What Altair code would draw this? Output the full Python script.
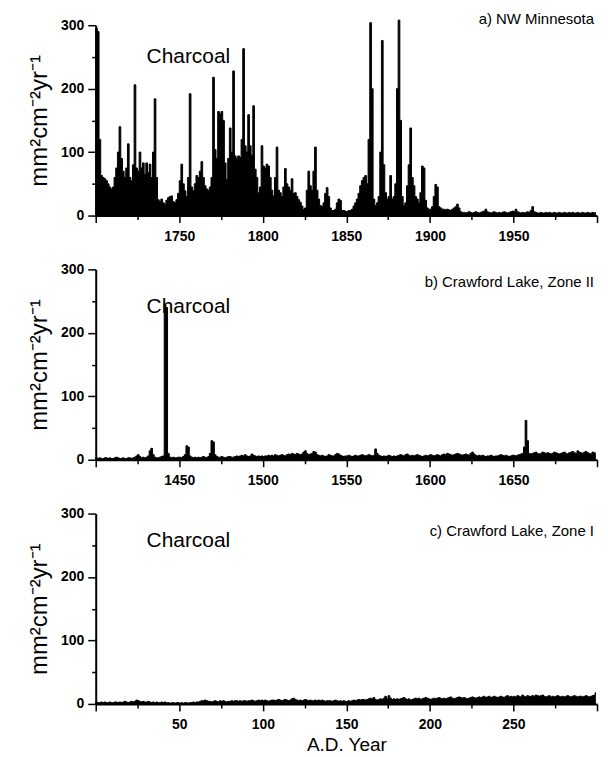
import altair as alt
import pandas as pd

# ---------------- data ----------------
years_a = list(range(1700, 2000))
charcoal_a = [
    295, 290, 120, 63, 60, 58, 55, 50, 45, 42,
    45, 60, 75, 100, 140, 90, 70, 60, 75, 113,
    60, 55, 80, 206, 75, 70, 100, 75, 83, 65,
    83, 68, 81, 60, 100, 184, 60, 25, 22, 26,
    20, 18, 24, 28, 30, 31, 22, 20, 25, 35,
    55, 81, 50, 39, 30, 60, 192, 45, 39, 50,
    63, 60, 70, 85, 60, 47, 42, 40, 45, 60,
    218, 104, 90, 164, 160, 164, 150, 83, 57, 90,
    138, 100, 228, 94, 90, 94, 92, 120, 263, 110,
    100, 159, 110, 95, 173, 73, 60, 36, 45, 110,
    78, 75, 81, 78, 60, 40, 31, 60, 108, 40,
    36, 30, 45, 74, 50, 45, 40, 58, 35, 36,
    30, 25, 21, 15, 10, 12, 40, 70, 47, 40,
    70, 108, 40, 26, 16, 14, 20, 35, 44, 30,
    12, 8, 8, 10, 20, 26, 24, 8, 8, 7,
    6, 8, 8, 10, 15, 20, 26, 35, 47, 55,
    60, 63, 50, 120, 304, 200, 26, 16, 20, 30,
    100, 276, 80, 36, 26, 30, 63, 26, 30, 50,
    200, 308, 150, 30, 16, 20, 47, 80, 138, 60,
    47, 30, 26, 20, 36, 78, 75, 24, 12, 10,
    10, 14, 30, 49, 45, 14, 12, 10, 10, 9,
    10, 9, 8, 10, 12, 14, 18, 12, 6, 5,
    5, 4, 5, 6, 5, 4, 5, 6, 5, 4,
    5, 6, 7, 10, 6, 5, 4, 5, 6, 5,
    4, 5, 4, 5, 6, 5, 4, 5, 6, 7,
    6, 10, 6, 5, 4, 5, 4, 5, 6, 5,
    8, 14, 6, 5, 4, 4, 5, 4, 4, 5,
    4, 5, 4, 4, 5, 4, 4, 5, 4, 4,
    5, 4, 4, 5, 4, 5, 4, 4, 5, 4,
    4, 5, 4, 4, 5, 4, 4, 5, 4, 5,
]

years_b = list(range(1400, 1700))
charcoal_b = [
    3, 2, 3, 2, 2, 3, 3, 2, 3, 2,
    2, 3, 4, 3, 2, 2, 3, 2, 2, 3,
    3, 2, 3, 4, 6, 8, 5, 3, 4, 3,
    4, 6, 14, 18, 8, 4, 3, 3, 4, 5,
    6, 245, 240, 10, 4, 3, 4, 3, 3, 4,
    4, 3, 5, 8, 22, 20, 6, 4, 3, 4,
    3, 4, 3, 4, 5, 4, 3, 5, 10, 30,
    28, 8, 5, 4, 4, 5, 4, 3, 4, 5,
    5, 4, 4, 5, 6, 5, 6, 7, 6, 8,
    6, 5, 6, 9, 7, 6, 5, 6, 5, 6,
    5, 6, 6, 7, 6, 7, 6, 8, 7, 6,
    7, 8, 7, 6, 8, 9, 8, 10, 9, 8,
    10, 9, 8, 9, 12, 14, 10, 8, 9, 10,
    13, 12, 8, 7, 6, 7, 6, 5, 6, 8,
    7, 6, 6, 8, 10, 9, 7, 6, 5, 6,
    6, 7, 6, 5, 6, 7, 6, 6, 7, 8,
    7, 6, 7, 8, 7, 6, 7, 17, 10, 7,
    6, 5, 6, 5, 6, 7, 6, 5, 6, 5,
    6, 7, 8, 7, 6, 8, 9, 7, 6, 7,
    6, 7, 8, 7, 6, 5, 6, 7, 6, 7,
    8, 7, 6, 7, 8, 7, 6, 8, 9, 8,
    10, 9, 8, 7, 8, 9, 10, 9, 8, 7,
    8, 9, 8, 7, 10, 12, 9, 7, 6, 7,
    6, 7, 6, 5, 6, 6, 7, 6, 5, 6,
    6, 7, 8, 7, 6, 7, 6, 5, 6, 7,
    7, 6, 7, 8, 9, 10, 20, 62, 30, 10,
    9, 10, 11, 12, 10, 9, 10, 12, 11, 10,
    11, 10, 9, 10, 12, 11, 10, 9, 10, 11,
    12, 10, 9, 11, 12, 13, 11, 10, 14, 12,
    11, 10, 12, 13, 11, 10, 9, 12, 11, 10,
]

years_c = list(range(0, 300))
charcoal_c = [
    3, 2, 2, 3, 2, 3, 2, 2, 3, 2,
    2, 3, 3, 2, 3, 2, 3, 4, 3, 2,
    3, 4, 3, 4, 6, 5, 4, 3, 4, 3,
    3, 4, 3, 2, 3, 2, 3, 2, 2, 3,
    2, 3, 2, 2, 1, 2, 2, 1, 2, 2,
    1, 2, 1, 2, 2, 1, 2, 2, 3, 2,
    3, 3, 4, 5, 5, 6, 5, 4, 4, 3,
    4, 5, 4, 3, 5, 4, 5, 4, 3, 4,
    4, 5, 4, 5, 5, 4, 5, 4, 5, 5,
    4, 5, 5, 6, 5, 4, 5, 6, 5, 6,
    5, 6, 5, 4, 5, 6, 6, 5, 6, 7,
    6, 5, 6, 7, 6, 5, 6, 8, 9, 7,
    6, 5, 6, 5, 6, 7, 6, 5, 6, 5,
    5, 6, 5, 6, 5, 6, 5, 4, 5, 5,
    5, 4, 5, 6, 5, 4, 5, 4, 5, 4,
    4, 5, 4, 5, 6, 5, 6, 7, 6, 7,
    7, 6, 7, 8, 9, 8, 10, 7, 6, 7,
    8, 7, 9, 12, 8, 13, 9, 7, 8, 7,
    8, 7, 8, 9, 10, 8, 7, 8, 6, 7,
    8, 9, 8, 9, 7, 8, 9, 10, 9, 8,
    7, 8, 9, 8, 9, 10, 9, 8, 9, 8,
    9, 10, 11, 9, 8, 9, 10, 11, 10, 9,
    10, 9, 8, 9, 10, 11, 10, 9, 10, 11,
    10, 11, 12, 10, 11, 12, 10, 11, 12, 11,
    10, 11, 12, 11, 10, 12, 13, 11, 12, 11,
    12, 11, 13, 12, 11, 14, 12, 11, 13, 12,
    12, 13, 12, 14, 13, 12, 13, 14, 12, 11,
    12, 13, 11, 12, 11, 12, 13, 12, 11, 12,
    11, 12, 13, 12, 11, 12, 13, 12, 11, 12,
    12, 11, 12, 13, 12, 11, 12, 13, 14, 18,
]

panel_titles = ["a) NW Minnesota", "b) Crawford Lake, Zone II", "c) Crawford Lake, Zone I"]
series_label = "Charcoal"
y_title = "mm²cm⁻²yr⁻¹"
x_title = "A.D. Year"
y_ticks = [0, 50, 100, 150, 200, 250, 300]

FONT = "Liberation Sans"
W, H = 503, 191


def panel(years, vals, x0, x1, title, show_xtitle, charcoal_y, title_y):
    df = pd.DataFrame({"year": years, "charcoal": vals})
    xt = list(range(x0, x1 + 1, 25))
    x_axis = alt.Axis(
        values=xt,
        format="d",
        labelExpr=f"(datum.value % 50 === 0 && datum.value > {x0} && datum.value < {x1}) ? datum.label : ''",
        tickSize={"condition": {"test": "datum.value % 50 === 0", "value": 7}, "value": 4},
        labelPadding=7,
        title=x_title if show_xtitle else None,
        titleFontSize=19,
        titleFontWeight="normal",
        titlePadding=4,
        labelFlush=False,
        labelOverlap=False,
    )
    y_axis = alt.Axis(
        values=y_ticks,
        labelExpr="datum.value % 100 === 0 ? datum.label : ''",
        tickSize={"condition": {"test": "datum.value % 100 === 0", "value": 8}, "value": 4},
        labelPadding=4,
        title=y_title,
        titleFontSize=24,
        titleFontWeight="normal",
        titlePadding=9,
        labelFlush=False,
        labelOverlap=False,
    )
    area = alt.Chart(df).mark_area(
        interpolate="step-after", color="black", stroke="black", strokeWidth=1.0
    ).encode(
        x=alt.X("year:Q", scale=alt.Scale(domain=[x0, x1], nice=False, zero=False), axis=x_axis),
        y=alt.Y("charcoal:Q", scale=alt.Scale(domain=[0, 300], nice=False), axis=y_axis),
    )
    lab = pd.DataFrame({"t": [series_label]})
    t1 = alt.Chart(lab).mark_text(
        align="left", baseline="middle", fontSize=21, font=FONT, color="black"
    ).encode(x=alt.value(51), y=alt.value(charcoal_y), text="t:N")
    tt = pd.DataFrame({"t": [title]})
    t2 = alt.Chart(tt).mark_text(
        align="right", baseline="middle", fontSize=15, font=FONT, color="black"
    ).encode(x=alt.value(500), y=alt.value(title_y), text="t:N")
    return alt.layer(area, t1, t2).properties(width=W, height=H)


pa = panel(years_a, charcoal_a, 1700, 2000, panel_titles[0], False, 32, -6)
pb = panel(years_b, charcoal_b, 1400, 1700, panel_titles[1], False, 38, 13)
pc = panel(years_c, charcoal_c, 0, 300, panel_titles[2], True, 28, 18)

chart = alt.vconcat(pa, pb, pc, spacing=54, bounds="flush").properties(
    padding={"left": 19, "top": 3, "right": 2, "bottom": 0}
).configure_axis(
    domainColor="black",
    domainWidth=2,
    tickColor="black",
    tickWidth=1.5,
    labelColor="black",
    labelFont=FONT,
    labelFontSize=14,
    labelFontWeight="bold",
    titleFont=FONT,
    titleColor="black",
    grid=False,
).configure_view(stroke=None)

chart.save("out.html", embed_options={"renderer": "svg", "actions": False})
